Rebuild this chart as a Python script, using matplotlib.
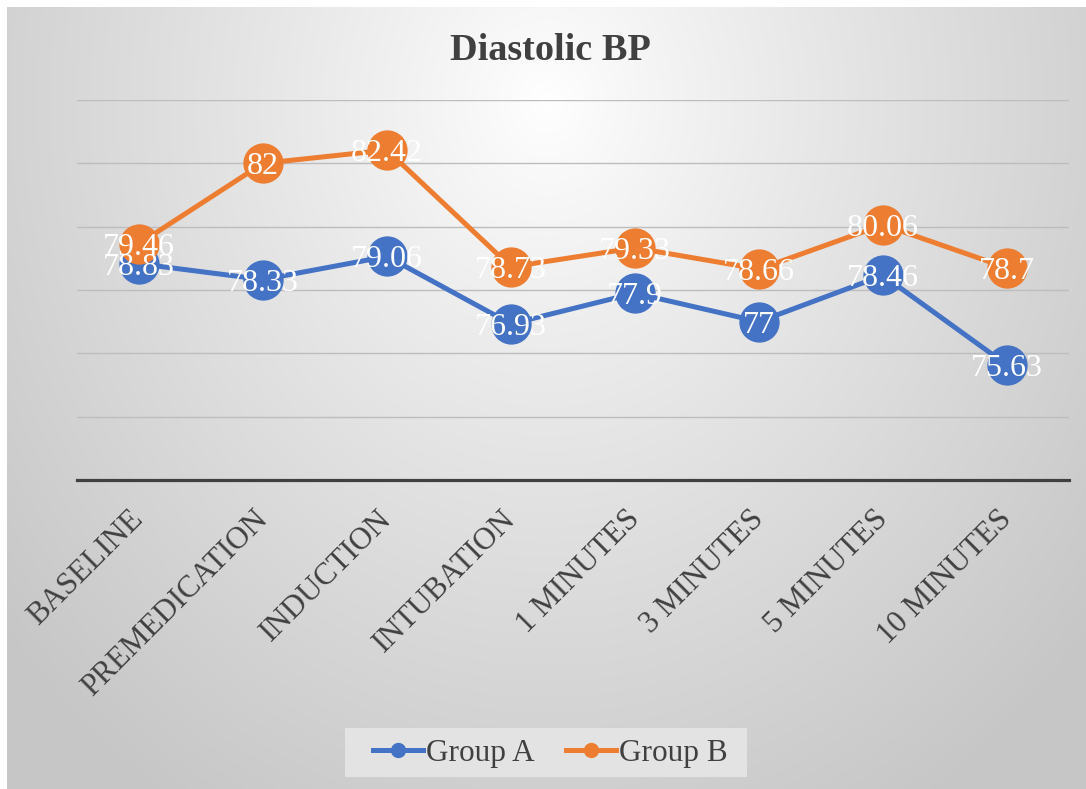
import numpy as np
import matplotlib
matplotlib.use("Agg")
import matplotlib.pyplot as plt
from matplotlib.lines import Line2D
from matplotlib.patches import Rectangle
from matplotlib.transforms import ScaledTranslation

categories = ["BASELINE", "PREMEDICATION", "INDUCTION", "INTUBATION",
              "1 MINUTES", "3 MINUTES", "5 MINUTES", "10 MINUTES"]
group_a = [78.83, 78.33, 79.06, 76.93, 77.9, 77.0, 78.46, 75.63]
group_b = [79.46, 82.0, 82.42, 78.73, 79.33, 78.66, 80.06, 78.7]
label_a = ["78.83", "78.33", "79.06", "76.93", "77.9", "77", "78.46", "75.63"]
label_b = ["79.46", "82", "82.42", "78.73", "79.33", "78.66", "80.06", "78.7"]
title = "Diastolic BP"

W, H = 1086, 789
fig = plt.figure(figsize=(W / 100, H / 100), dpi=100, facecolor="white")
plt.rcParams["font.family"] = ["Liberation Serif", "DejaVu Serif"]

# background radial gradient panel
bg = fig.add_axes([7 / W, 0, 1 - 7 / W, 1 - 7 / H], zorder=-10)
gx = np.linspace(0, 1, 540)
gy = np.linspace(0, 1, 400)
X, Y = np.meshgrid(gx, gy)
r = np.sqrt(((X - 0.5) / 0.62) ** 2 + ((Y - 0.12) / 1.0) ** 2)
v = 1.0 - 0.21 * np.clip(r, 0, 1.2) ** 0.9
v = np.clip(v, 0.78, 1.0)
img = np.dstack([v, v, v])
bg.imshow(img, aspect="auto", extent=[0, 1, 1, 0], interpolation="bicubic")
bg.set_axis_off()

ax = fig.add_axes([77 / W, 1 - 480 / H, (1069 - 77) / W, (480 - 100) / H])
ax.set_facecolor("none")
x = np.arange(len(categories))
ax.set_xlim(-0.5, len(categories) - 0.5)
ax.set_ylim(72, 84)
ax.set_yticks(np.arange(72, 85, 2))
ax.yaxis.grid(True, color="#bdbdbd", linewidth=1.0)
ax.set_axisbelow(True)
ax.tick_params(axis="y", left=False, labelleft=False)
ax.tick_params(axis="x", length=0, pad=17)
for s in ["top", "right", "left"]:
    ax.spines[s].set_visible(False)
ax.spines["bottom"].set_color("#404040")
ax.spines["bottom"].set_linewidth(2.3)
ax.spines["bottom"].set_zorder(3)

blue = "#4472C4"
orange = "#ED7D31"
ax.plot(x, group_a, color=blue, linewidth=3.6, marker="o", markersize=29,
        markeredgewidth=0, zorder=4, solid_capstyle="round")
ax.plot(x, group_b, color=orange, linewidth=3.6, marker="o", markersize=29,
        markeredgewidth=0, zorder=5, solid_capstyle="round")

for xi, yi, lb in zip(x, group_a, label_a):
    ax.text(xi, yi, lb, color="white", fontsize=23, ha="center",
            va="center_baseline", zorder=10)
for xi, yi, lb in zip(x, group_b, label_b):
    ax.text(xi, yi, lb, color="white", fontsize=23, ha="center",
            va="center_baseline", zorder=11)

ax.set_xticks(x)
ax.set_xticklabels(categories, rotation=45, ha="right", va="top",
                   rotation_mode="anchor", fontsize=22.3, color="#404040")
offset = ScaledTranslation(-10 / 100, -1 / 100, fig.dpi_scale_trans)
for lbl in ax.get_xticklabels():
    lbl.set_transform(lbl.get_transform() + offset)

fig.text(550 / W, 1 - 50 / H, title, ha="center", va="center",
         fontsize=27.5, fontweight="bold", color="#404040")

# legend box
fig.add_artist(Rectangle((345 / W, 1 - 777 / H), (747 - 345) / W, 49 / H,
                         transform=fig.transFigure, facecolor="#e3e3e3",
                         edgecolor="none", zorder=1))
handles = [Line2D([], [], color=blue, linewidth=3.6, marker="o", markersize=10),
           Line2D([], [], color=orange, linewidth=3.6, marker="o", markersize=10)]
leg = fig.legend(handles, ["Group A", "Group B"], loc="center",
                 bbox_to_anchor=(550 / W, 1 - 753 / H), ncol=2, frameon=False,
                 fontsize=22.5, handlelength=1.6, handletextpad=0.1,
                 columnspacing=1.0, borderpad=0.25)
leg.set_zorder(2)
for t in leg.get_texts():
    t.set_color("#404040")

fig.savefig("out.png", dpi=100, facecolor="white")
